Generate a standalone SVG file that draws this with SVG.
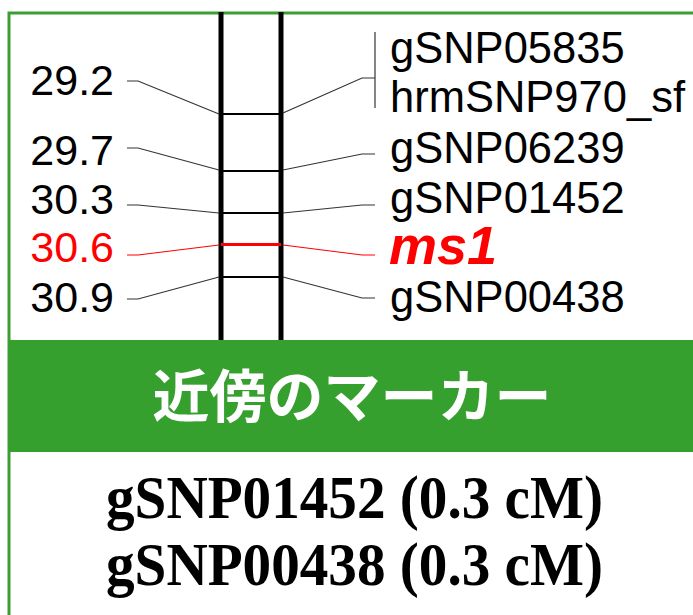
<svg xmlns="http://www.w3.org/2000/svg" width="693" height="615" viewBox="0 0 693 615">
<style>
.num{font-family:"Liberation Sans",Arial,sans-serif;font-size:43px;fill:#000;text-anchor:end}
.lab{font-family:"Liberation Sans",Arial,sans-serif;font-size:43.5px;fill:#000}
.red{fill:#ff0000}
.gene{font-family:"Liberation Sans",Arial,sans-serif;font-size:54px;font-weight:bold;font-style:italic;fill:#ff0000}
.conn{fill:none;stroke:#333;stroke-width:1.2}
.connr{fill:none;stroke:#ff0000;stroke-width:1.2}
.chr{stroke:#000;stroke-width:5}
.band{stroke:#000;stroke-width:2}
.res{font-family:"Liberation Serif","Times New Roman",serif;font-weight:bold;font-size:61px;fill:#000}
</style>
<rect x="0" y="0" width="693" height="615" fill="#fff"/>
<g id="frame">
<path d="M9 615 V13 H693" fill="none" stroke="#3a9f32" stroke-width="3"/>
</g>
<g id="chromosome">
<line class="chr" x1="221" y1="12" x2="221" y2="340"/>
<line class="chr" x1="281" y1="12" x2="281" y2="340"/>
<line class="band" x1="221" y1="114" x2="281" y2="114"/>
<line class="band" x1="221" y1="171" x2="281" y2="171"/>
<line class="band" x1="221" y1="213" x2="281" y2="213"/>
<line x1="221" y1="244.5" x2="281" y2="244.5" stroke="#ff0000" stroke-width="3"/>
<line class="band" x1="221" y1="277" x2="281" y2="277"/>
</g>
<g id="connectors">
<polyline class="conn" points="127,81 138,81 219,114"/>
<polyline class="conn" points="127,148 138,148 219,170"/>
<polyline class="conn" points="127,205 138,205 219,213"/>
<polyline class="connr" points="127,255 138,255 219,245"/>
<polyline class="conn" points="127,299 138,299 219,277"/>
<polyline class="conn" points="283,113 362,78 375,78"/>
<line class="conn" x1="375" y1="32" x2="375" y2="108"/>
<polyline class="conn" points="283,170 362,154 375,154"/>
<polyline class="conn" points="283,213 362,205 375,205"/>
<polyline class="connr" points="283,245 362,255 375,255"/>
<polyline class="conn" points="283,277 362,298 375,298"/>
</g>
<g id="positions">
<text class="num" x="114" y="95">29.2</text>
<text class="num" x="114" y="165">29.7</text>
<text class="num" x="114" y="214">30.3</text>
<text class="num red" x="114" y="262">30.6</text>
<text class="num" x="114" y="312">30.9</text>
</g>
<g id="markers">
<text class="lab" x="390" y="63">gSNP05835</text>
<text class="lab" x="390" y="112">hrmSNP970_sf</text>
<text class="lab" x="390" y="163">gSNP06239</text>
<text class="lab" x="390" y="213">gSNP01452</text>
<text class="gene" x="389" y="264">ms1</text>
<text class="lab" x="390" y="312">gSNP00438</text>
</g>
<g id="header">
<rect x="9" y="340" width="684" height="112" fill="#36a02e"/>
<text x="352" y="417" text-anchor="middle" font-family="'Noto Sans CJK JP','Noto Sans CJK SC',sans-serif" font-weight="bold" font-size="57" fill="#fff">近傍のマーカー</text>
</g>
<g id="result">
<text class="res" x="106" y="518" textLength="497" lengthAdjust="spacingAndGlyphs">gSNP01452 (0.3 cM)</text>
<text class="res" x="106" y="585" textLength="497" lengthAdjust="spacingAndGlyphs">gSNP00438 (0.3 cM)</text>
</g>
</svg>
